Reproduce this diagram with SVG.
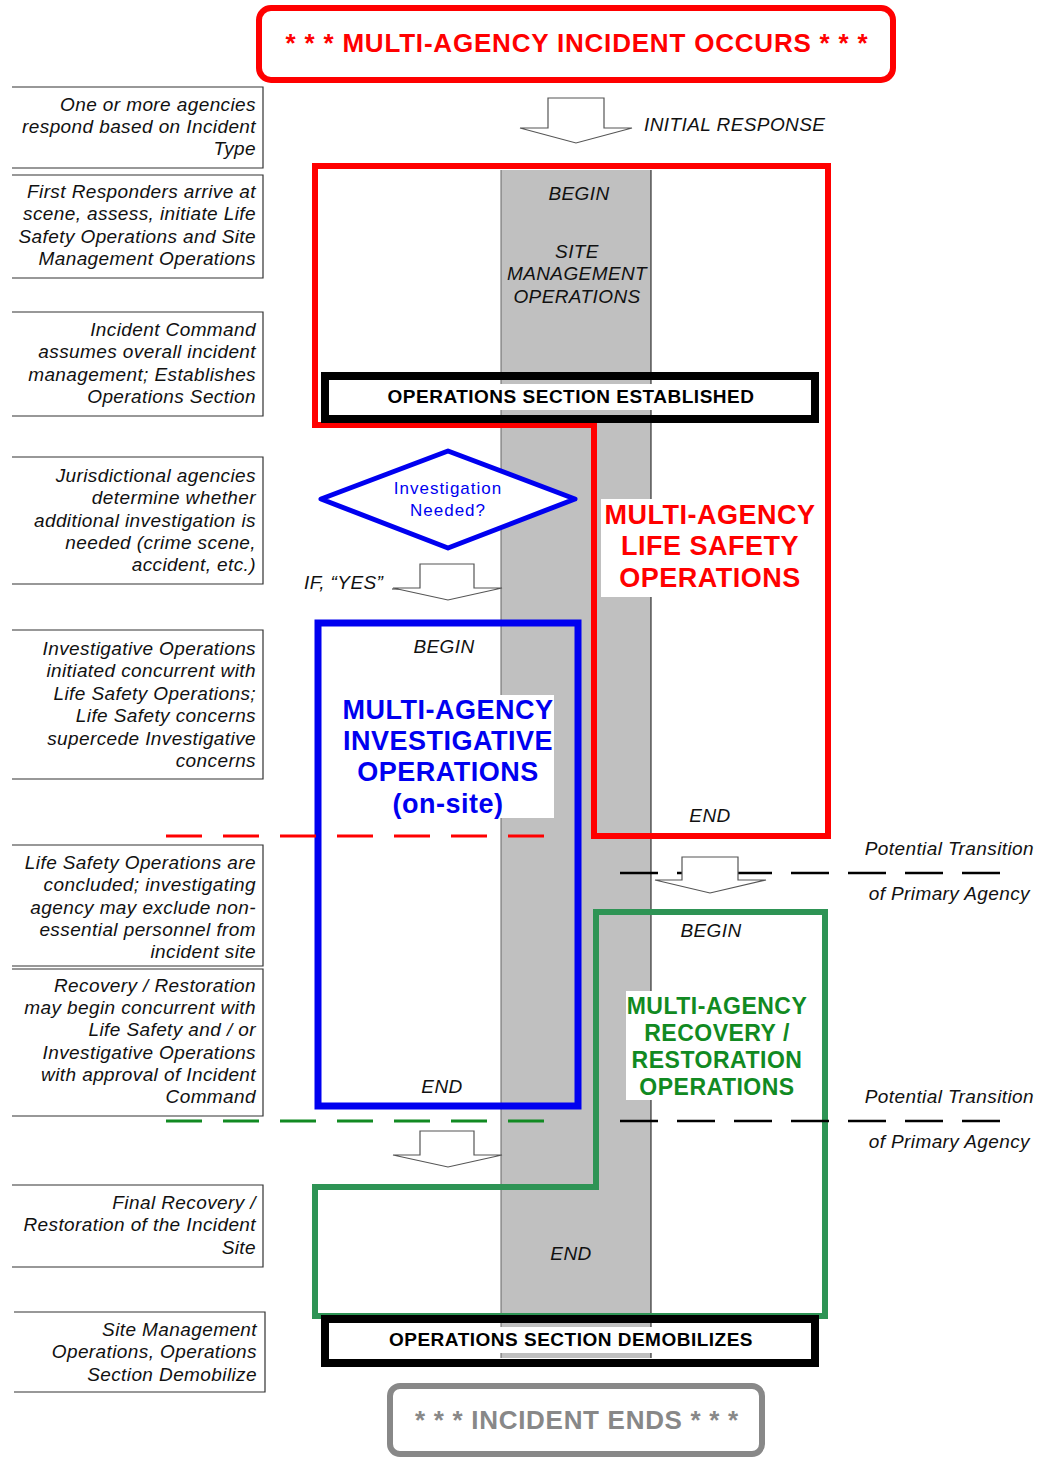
<svg xmlns="http://www.w3.org/2000/svg" width="1052" height="1457" viewBox="0 0 1052 1457">
<style>
.note{font-family:"Liberation Sans",Arial,sans-serif;font-style:italic;font-size:19px;letter-spacing:0.4px;fill:#111;text-anchor:end}
.lbl{font-family:"Liberation Sans",Arial,sans-serif;font-style:italic;font-size:19px;letter-spacing:0.4px;fill:#111;text-anchor:middle}
.lblL{font-family:"Liberation Sans",Arial,sans-serif;font-style:italic;font-size:19px;letter-spacing:0.4px;fill:#111}
.bold{font-family:"Liberation Sans",Arial,sans-serif;font-weight:bold;text-anchor:middle}
.nbox{fill:none;stroke:#333;stroke-width:1.2}
.barrow{fill:#fff;stroke:#555;stroke-width:1.2}
</style>
<rect width="1052" height="1457" fill="#fff"/>
<!-- gray site management column -->
<g id="site-column">
<rect x="501" y="170" width="150" height="1188" fill="#c0c0c0"/>
<line x1="501" y1="170" x2="501" y2="1358" stroke="#666" stroke-width="1"/>
<line x1="651" y1="170" x2="651" y2="1358" stroke="#111" stroke-width="1"/>
</g>
<g id="incident-occurs">
<rect x="259" y="8" width="634" height="72" rx="12" fill="#fff" stroke="#f00" stroke-width="6"/>
<text x="577" y="52" class="bold" font-size="26" letter-spacing="0.8" fill="#f00">* * * MULTI-AGENCY INCIDENT OCCURS * * *</text>
</g>
<g id="notes">
<g id="note1"><path class="nbox" d="M12 87H263V168H12"/>
<text class="note" x="256" y="111">One or more agencies</text><text class="note" x="256" y="133">respond based on Incident</text><text class="note" x="256" y="155">Type</text></g>
<g id="note2"><path class="nbox" d="M12 175H263V278H12"/>
<text class="note" x="256" y="198">First Responders arrive at</text><text class="note" x="256" y="220">scene, assess, initiate Life</text><text class="note" x="256" y="243">Safety Operations and Site</text><text class="note" x="256" y="265">Management Operations</text></g>
<g id="note3"><path class="nbox" d="M12 312H263V416H12"/>
<text class="note" x="256" y="336">Incident Command</text><text class="note" x="256" y="358">assumes overall incident</text><text class="note" x="256" y="381">management; Establishes</text><text class="note" x="256" y="403">Operations Section</text></g>
<g id="note4"><path class="nbox" d="M12 457H263V584H12"/>
<text class="note" x="256" y="482">Jurisdictional agencies</text><text class="note" x="256" y="504">determine whether</text><text class="note" x="256" y="527">additional investigation is</text><text class="note" x="256" y="549">needed (crime scene,</text><text class="note" x="256" y="571">accident, etc.)</text></g>
<g id="note5"><path class="nbox" d="M12 630H263V779H12"/>
<text class="note" x="256" y="655">Investigative Operations</text><text class="note" x="256" y="677">initiated concurrent with</text><text class="note" x="256" y="700">Life Safety Operations;</text><text class="note" x="256" y="722">Life Safety concerns</text><text class="note" x="256" y="745">supercede Investigative</text><text class="note" x="256" y="767">concerns</text></g>
<g id="note6"><path class="nbox" d="M12 845H263V966H12"/>
<text class="note" x="256" y="869">Life Safety Operations are</text><text class="note" x="256" y="891">concluded; investigating</text><text class="note" x="256" y="914">agency may exclude non-</text><text class="note" x="256" y="936">essential personnel from</text><text class="note" x="256" y="958">incident site</text></g>
<g id="note7"><path class="nbox" d="M12 969H263V1116H12"/>
<text class="note" x="256" y="992">Recovery / Restoration</text><text class="note" x="256" y="1014">may begin concurrent with</text><text class="note" x="256" y="1036">Life Safety and / or</text><text class="note" x="256" y="1059">Investigative Operations</text><text class="note" x="256" y="1081">with approval of Incident</text><text class="note" x="256" y="1103">Command</text></g>
<g id="note8"><path class="nbox" d="M12 1185H263V1267H12"/>
<text class="note" x="256" y="1209">Final Recovery /</text><text class="note" x="256" y="1231">Restoration of the Incident</text><text class="note" x="256" y="1254">Site</text></g>
<g id="note9"><path class="nbox" d="M14 1312H265V1392H14"/>
<text class="note" x="257" y="1336">Site Management</text><text class="note" x="257" y="1358">Operations, Operations</text><text class="note" x="257" y="1381">Section Demobilize</text></g>
</g>
<g id="life-safety">
<path d="M315 166H828V836H594V425H315Z" fill="none" stroke="#f00" stroke-width="6"/>
<text class="lbl" x="579" y="200">BEGIN</text>
<text class="lbl" x="577" y="258">SITE</text>
<text class="lbl" x="577" y="280">MANAGEMENT</text>
<text class="lbl" x="577" y="303">OPERATIONS</text>
<rect x="601" y="499" width="216" height="98" fill="#fff"/>
<text class="bold" x="710" y="524" font-size="27" letter-spacing="0.5" fill="#f00">MULTI-AGENCY</text>
<text class="bold" x="710" y="555" font-size="27" letter-spacing="0.5" fill="#f00">LIFE SAFETY</text>
<text class="bold" x="710" y="587" font-size="27" letter-spacing="0.5" fill="#f00">OPERATIONS</text>
<text class="lbl" x="710" y="822">END</text>
</g>
<g id="ops-established">
<rect x="325" y="376" width="490" height="43" fill="none" stroke="#000" stroke-width="8"/>
<rect x="330" y="384" width="480" height="26" fill="#fff"/>
<text class="bold" x="571" y="403" font-size="19" letter-spacing="0.5" fill="#000">OPERATIONS SECTION ESTABLISHED</text>
</g>
<g id="investigation-needed">
<path d="M448 451L575 499L448 548L321 499Z" fill="#fff" stroke="#0000f0" stroke-width="5" stroke-linejoin="round"/>
<text x="448" y="494" font-family="Liberation Sans,Arial,sans-serif" font-size="17" letter-spacing="1" fill="#0000f0" text-anchor="middle">Investigation</text>
<text x="448" y="516" font-family="Liberation Sans,Arial,sans-serif" font-size="17" letter-spacing="1" fill="#0000f0" text-anchor="middle">Needed?</text>
</g>
<g id="investigative">
<rect x="318" y="623" width="260" height="483" fill="none" stroke="#0000f0" stroke-width="7"/>
<text class="lbl" x="444" y="653">BEGIN</text>
<rect x="340" y="695" width="214" height="123" fill="#fff"/>
<text class="bold" x="448" y="719" font-size="27" letter-spacing="0.5" fill="#0000f0">MULTI-AGENCY</text>
<text class="bold" x="448" y="750" font-size="27" letter-spacing="0.5" fill="#0000f0">INVESTIGATIVE</text>
<text class="bold" x="448" y="781" font-size="27" letter-spacing="0.5" fill="#0000f0">OPERATIONS</text>
<text class="bold" x="448" y="813" font-size="27" letter-spacing="0.5" fill="#0000f0">(on-site)</text>
<text class="lbl" x="442" y="1093">END</text>
</g>
<g id="recovery">
<path d="M596 912H825V1316H315V1187H596Z" fill="none" stroke="#2e9455" stroke-width="6"/>
<text class="lbl" x="711" y="937">BEGIN</text>
<rect x="626" y="991" width="182" height="109" fill="#fff"/>
<text class="bold" x="717" y="1014" font-size="23" letter-spacing="0.5" fill="#118a22">MULTI-AGENCY</text>
<text class="bold" x="717" y="1041" font-size="23" letter-spacing="0.5" fill="#118a22">RECOVERY /</text>
<text class="bold" x="717" y="1068" font-size="23" letter-spacing="0.5" fill="#118a22">RESTORATION</text>
<text class="bold" x="717" y="1095" font-size="23" letter-spacing="0.5" fill="#118a22">OPERATIONS</text>
<text class="lbl" x="571" y="1260">END</text>
</g>
<g id="ops-demobilizes">
<rect x="325" y="1319" width="490" height="44" fill="none" stroke="#000" stroke-width="8"/>
<rect x="330" y="1327" width="480" height="26" fill="#fff"/>
<text class="bold" x="571" y="1346" font-size="19" letter-spacing="0.5" fill="#000">OPERATIONS SECTION DEMOBILIZES</text>
</g>
<g id="incident-ends">
<rect x="390" y="1386" width="372" height="68" rx="10" fill="#fff" stroke="#888" stroke-width="6"/>
<text x="577" y="1429" class="bold" font-size="26" letter-spacing="0.7" fill="#888">* * * INCIDENT ENDS * * *</text>
</g>
<g id="connectors">
<path class="barrow" d="M548 98H604V128H632L576 143L520 128H548Z"/>
<text class="lblL" x="644" y="131">INITIAL RESPONSE</text>
<text class="lblL" x="304" y="589">IF, “YES”</text>
<line x1="392" y1="589" x2="420" y2="589" stroke="#555" stroke-width="1.2"/>
<path class="barrow" d="M420 564H474V588H502L448 600L393 588H420Z"/>
<line x1="166" y1="836" x2="546" y2="836" stroke="#f00" stroke-width="3" stroke-dasharray="36,21"/>
<line x1="620" y1="873" x2="1000" y2="873" stroke="#000" stroke-width="2.5" stroke-dasharray="38,19"/>
<path class="barrow" d="M682 857H738V880H766L710 893L655 880H682Z"/>
<text class="note" x="1034" y="855">Potential Transition</text>
<text class="note" x="1030" y="900">of Primary Agency</text>
<line x1="166" y1="1121" x2="546" y2="1121" stroke="#118a22" stroke-width="3" stroke-dasharray="36,21"/>
<line x1="620" y1="1121" x2="1000" y2="1121" stroke="#000" stroke-width="2.5" stroke-dasharray="38,19"/>
<path class="barrow" d="M420 1131H474V1155H502L448 1167L393 1155H420Z"/>
<text class="note" x="1034" y="1103">Potential Transition</text>
<text class="note" x="1030" y="1148">of Primary Agency</text>
</g>
</svg>
